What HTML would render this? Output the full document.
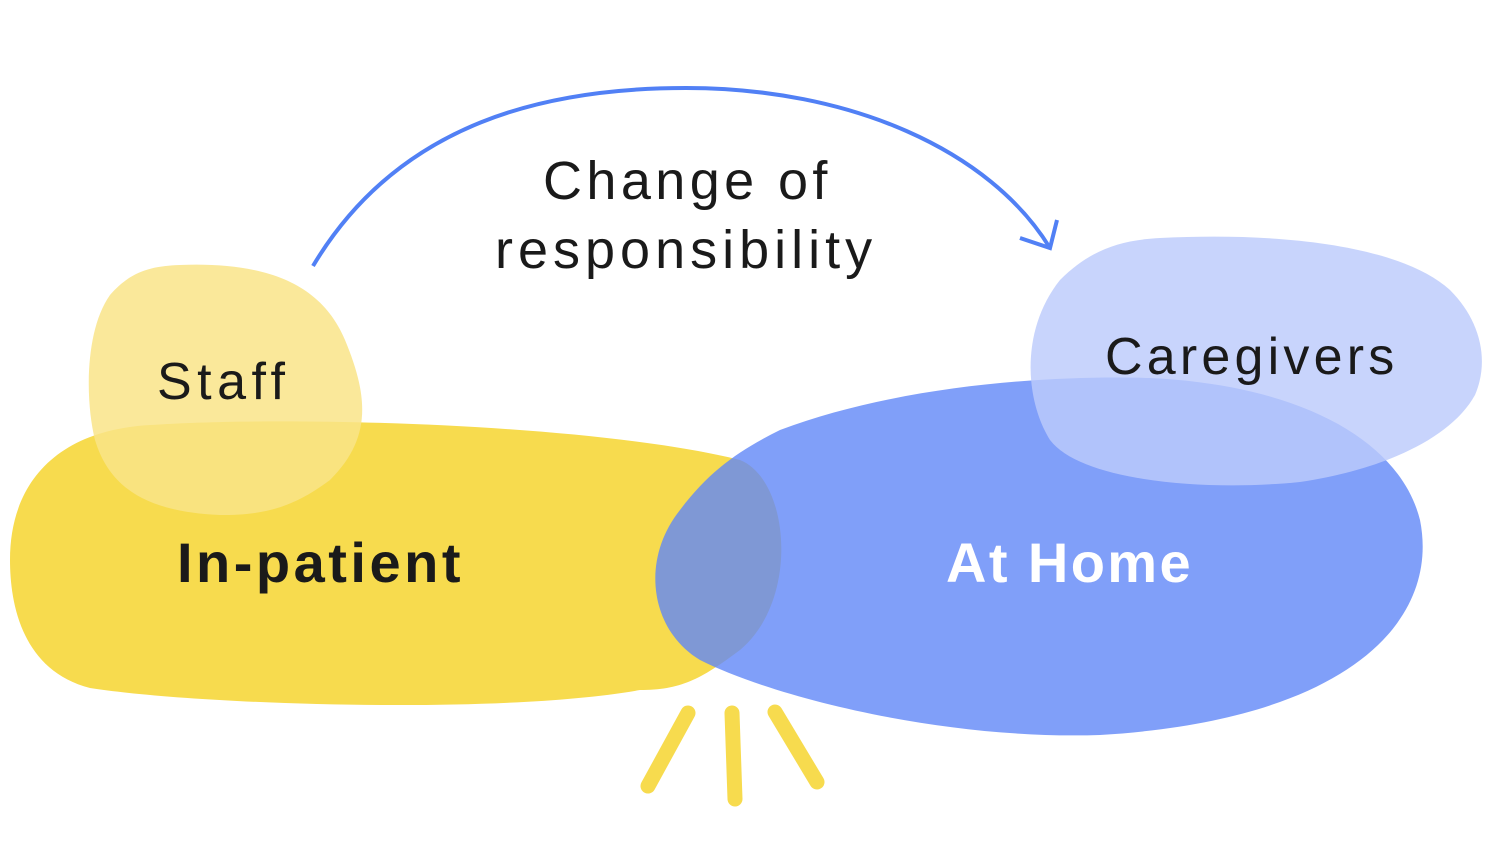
<!DOCTYPE html>
<html><head><style>
html,body{margin:0;padding:0;background:#fff;width:1490px;height:850px;overflow:hidden}
svg{display:block}
text{font-family:"Liberation Sans",sans-serif}
</style></head><body>
<svg width="1490" height="850" viewBox="0 0 1490 850">
<path d="M150,425 C300,415 600,425 740,460 C790,480 800,600 740,650 C700,680 680,690 640,690 C500,715 200,705 90,688 C20,670 10,600 10,560 C10,480 60,430 150,425 Z" fill="#F7DB4E"/>
<path d="M180,265 C260,262 320,280 345,340 C370,400 370,440 330,480 C290,510 260,515 220,515 C150,512 110,490 95,440 C85,400 85,330 110,295 C130,272 150,266 180,265 Z" fill="#F9E488" fill-opacity="0.85"/>
<path d="M780,430 C900,385 1050,375 1150,378 C1300,385 1400,440 1420,520 C1440,620 1350,720 1100,735 C950,740 780,700 700,660 C650,630 640,560 680,510 C710,470 740,450 780,430 Z" fill="#6087F7" fill-opacity="0.8"/>
<path d="M1160,238 C1280,232 1400,245 1450,290 C1480,320 1490,360 1475,395 C1450,440 1380,470 1300,482 C1200,492 1080,480 1050,440 C1025,400 1020,330 1060,280 C1090,250 1120,240 1160,238 Z" fill="#BCCAFB" fill-opacity="0.82"/>
<path d="M313,266 C400,120 550,88 686,88 C850,88 990,150 1050,248" fill="none" stroke="#5180F5" stroke-width="4"/>
<path d="M1020,238 L1050,248 L1057,220" fill="none" stroke="#5180F5" stroke-width="4"/>
<g stroke="#F7DB4E" stroke-width="15" stroke-linecap="round">
<line x1="648" y1="786" x2="688" y2="713"/>
<line x1="732" y1="713" x2="735" y2="799"/>
<line x1="775" y1="712" x2="817" y2="782"/>
</g>
<text x="543" y="199" font-size="54" fill="#1a1a1a" letter-spacing="4.4">Change of</text>
<text x="495" y="268" font-size="54" fill="#1a1a1a" letter-spacing="5">responsibility</text>
<text x="157" y="399" font-size="52" fill="#1a1a1a" letter-spacing="5.5">Staff</text>
<text x="1105" y="374" font-size="52" fill="#1a1a1a" letter-spacing="4.2">Caregivers</text>
<text x="177" y="582" font-size="56" font-weight="bold" fill="#1a1a1a" letter-spacing="3.5">In-patient</text>
<text x="946" y="582" font-size="56" font-weight="bold" fill="#ffffff" letter-spacing="2.4">At Home</text>
</svg>
</body></html>
